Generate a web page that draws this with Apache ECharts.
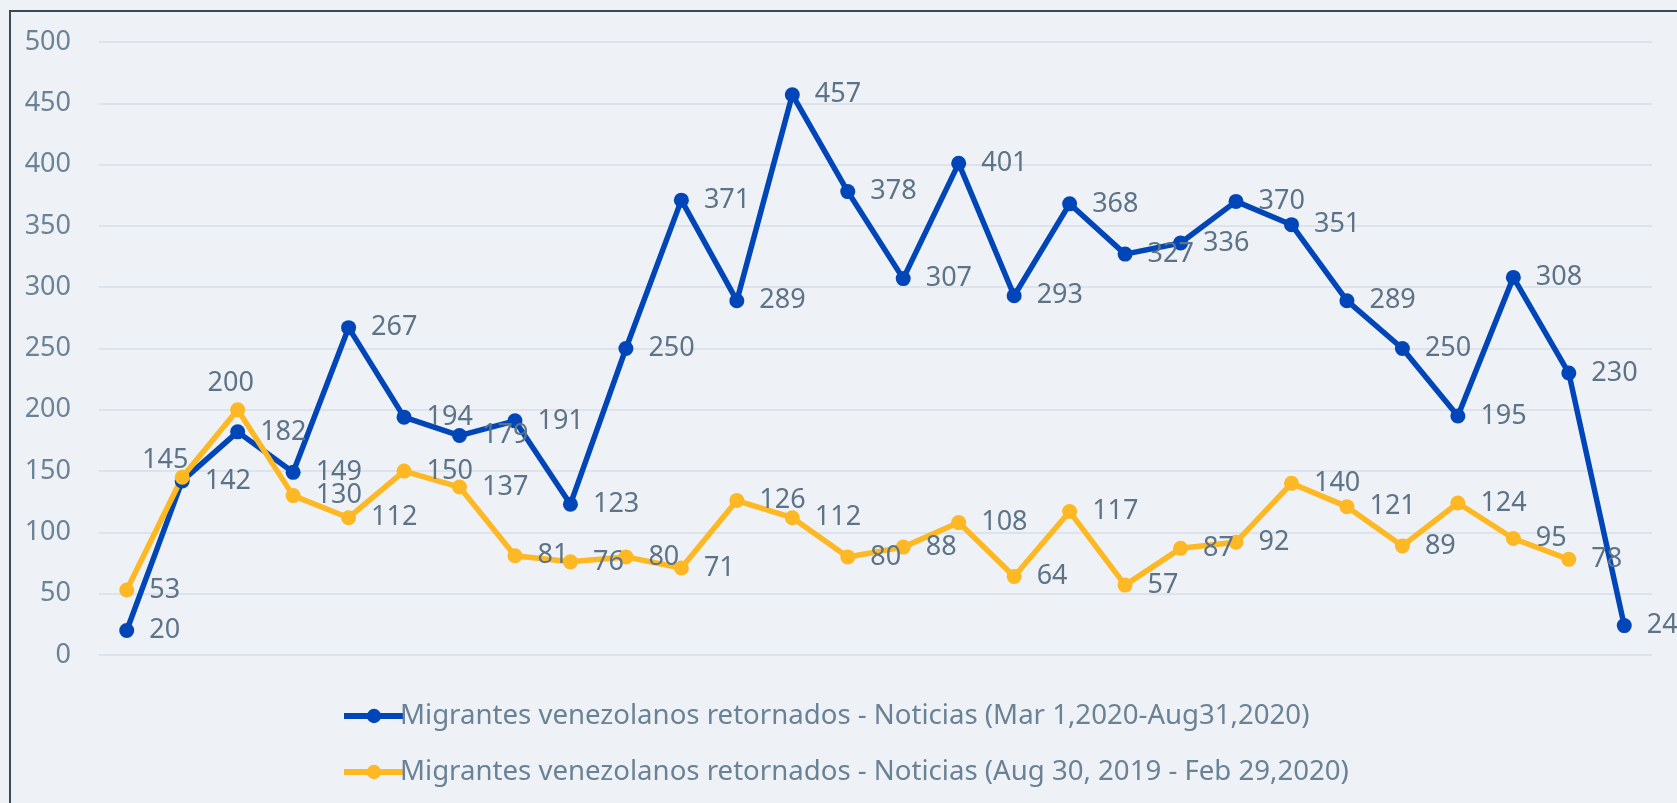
<!DOCTYPE html>
<html>
<head>
<meta charset="utf-8">
<script src="https://cdn.jsdelivr.net/npm/echarts@6/dist/echarts.min.js"></script>
<style>
  html, body { margin: 0; padding: 0; background: #eef2f6; }
  #chart { width: 1677px; height: 803px; }
  #frame {
    position: absolute; left: 9px; top: 10px; width: 1700px; height: 820px;
    border-top: 2px solid #3b4855; border-left: 2px solid #3b4855;
    pointer-events: none;
  }
</style>
</head>
<body>
<div id="chart"></div>
<div id="frame"></div>
<script>
// semanas (sin etiqueta visible en el eje)
var categories = ['1','2','3','4','5','6','7','8','9','10','11','12','13','14',
  '15','16','17','18','19','20','21','22','23','24','25','26','27','28'];

var blueName = 'Migrantes venezolanos retornados - Noticias (Mar 1,2020-Aug31,2020)';
var blueValues = [20, 142, 182, 149, 267, 194, 179, 191, 123, 250, 371, 289, 457, 378,
  307, 401, 293, 368, 327, 336, 370, 351, 289, 250, 195, 308, 230, 24];

var yellowName = 'Migrantes venezolanos retornados - Noticias (Aug 30, 2019 - Feb 29,2020)';
var yellowValues = [53, 145, 200, 130, 112, 150, 137, 81, 76, 80, 71, 126, 112, 80,
  88, 108, 64, 117, 57, 87, 92, 140, 121, 89, 124, 95, 78];

var yTicks = [0, 50, 100, 150, 200, 250, 300, 350, 400, 450, 500];

var chart = echarts.init(document.getElementById('chart'));

var labelColor = '#5d7388';
var font = "'Noto Sans', sans-serif";

function lineSeries(name, values, color, labelTweaks) {
  return {
    name: name,
    type: 'line',
    symbol: 'circle',
    symbolSize: 15,
    lineStyle: { width: 5.5, color: color },
    itemStyle: { color: color },
    label: {
      show: true,
      position: 'right',
      distance: 15,
      color: labelColor,
      fontSize: 27,
      fontFamily: font
    },
    data: values.map(function (v, i) {
      if (labelTweaks[i]) {
        return { value: v, label: labelTweaks[i] };
      }
      return v;
    })
  };
}

var option = {
  animation: false,
  backgroundColor: '#eef2f6',
  grid: {
    left: 99,
    right: 25,
    top: 42,
    bottom: 148
  },
  legend: {
    orient: 'vertical',
    left: 336,
    top: 697,
    itemWidth: 60,
    itemHeight: 18,
    itemGap: 28,
    lineStyle: { width: 6 },
    textStyle: {
      color: '#6a8296',
      fontSize: 27.6,
      fontFamily: font,
      padding: [0, 0, 0, -9]
    },
    data: [blueName, yellowName]
  },
  xAxis: {
    type: 'category',
    data: categories,
    boundaryGap: true,
    axisLine: { show: false },
    axisTick: { show: false },
    axisLabel: { show: false },
    splitLine: { show: false }
  },
  yAxis: {
    type: 'value',
    min: yTicks[0],
    max: yTicks[yTicks.length - 1],
    interval: 50,
    axisLine: { show: false },
    axisTick: { show: false },
    axisLabel: {
      margin: 28,
      color: '#6b8397',
      fontSize: 27,
      fontFamily: font
    },
    splitLine: {
      lineStyle: { color: '#dde3ea', width: 2 }
    }
  },
  series: [
    lineSeries(blueName, blueValues, '#0046b8', {}),
    lineSeries(yellowName, yellowValues, '#fdb824', {
      1: { position: 'top', distance: 0, offset: [-17, 4] },
      2: { position: 'top', distance: 5, offset: [-7, 0] }
    })
  ]
};

chart.setOption(option);
</script>
</body>
</html>
